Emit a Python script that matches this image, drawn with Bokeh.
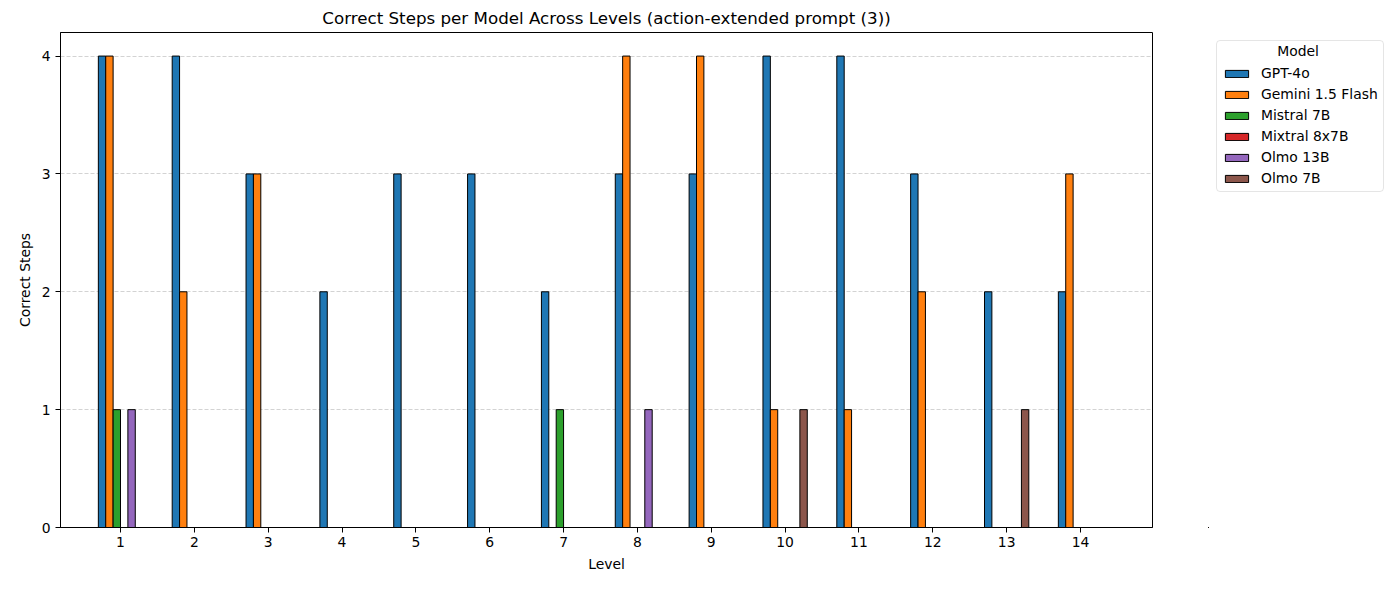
from bokeh.plotting import figure
from bokeh.layouts import row
from bokeh.models import Legend, LegendItem, ColumnDataSource, FixedTicker, Range1d, Label
from bokeh.embed import file_html
from bokeh.resources import INLINE

levels = [1, 2, 3, 4, 5, 6, 7, 8, 9, 10, 11, 12, 13, 14]
models = ["GPT-4o", "Gemini 1.5 Flash", "Mistral 7B", "Mixtral 8x7B", "Olmo 13B", "Olmo 7B"]
gpt4o = [4, 4, 3, 2, 3, 3, 2, 3, 3, 4, 4, 3, 2, 2]
gemini = [4, 2, 3, 0, 0, 0, 0, 4, 4, 1, 1, 2, 0, 3]
mistral = [1, 0, 0, 0, 0, 0, 1, 0, 0, 0, 0, 0, 0, 0]
mixtral = [0, 0, 0, 0, 0, 0, 0, 0, 0, 0, 0, 0, 0, 0]
olmo13 = [1, 0, 0, 0, 0, 0, 0, 1, 0, 0, 0, 0, 0, 0]
olmo7 = [0, 0, 0, 0, 0, 0, 0, 0, 0, 1, 0, 0, 1, 0]
series = [gpt4o, gemini, mistral, mixtral, olmo13, olmo7]
colors = ["#1f77b4", "#ff7f0e", "#2ca02c", "#d62728", "#9467bd", "#8c564b"]

FONT = "DejaVu Sans"
H = 574
TOP, BOTTOM = 24, 45

p = figure(width=1160, height=H, output_backend="svg", toolbar_location=None,
           x_range=Range1d(0.1875, 14.975), y_range=Range1d(0, 4.2),
           min_border_left=60, min_border_right=8, min_border_top=TOP, min_border_bottom=BOTTOM,
           title="Correct Steps per Model Across Levels (action-extended prompt (3))")

bar_w = 0.1
for i, (name, vals, col) in enumerate(zip(models, series, colors)):
    off = (i - 2.5) * bar_w
    src = ColumnDataSource(dict(x=[l + off for l in levels], top=vals))
    p.vbar(x="x", top="top", width=bar_w, source=src, fill_color=col,
           line_color="black", line_width=1)

p.title.text_font = FONT
p.title.text_font_size = "16.7px"
p.title.text_font_style = "normal"
p.title.align = "center"
p.title.text_color = "black"

p.xaxis.axis_label = "Level"
p.yaxis.axis_label = "Correct Steps"
for ax in (p.xaxis, p.yaxis):
    ax.axis_label_text_font = FONT
    ax.axis_label_text_font_size = "13.9px"
    ax.axis_label_text_font_style = "normal"
    ax.axis_label_text_color = "black"
    ax.major_label_text_font = FONT
    ax.major_label_text_font_size = "13.9px"
    ax.major_label_text_color = "black"
    ax.minor_tick_line_color = None
    ax.major_tick_line_color = "black"
    ax.major_tick_out = 5
    ax.major_tick_in = 0
    ax.axis_line_color = "black"
    ax.axis_label_standoff = 6
p.xaxis.ticker = FixedTicker(ticks=levels)
p.yaxis.ticker = FixedTicker(ticks=[0, 1, 2, 3, 4])
p.xaxis.major_label_standoff = 4

p.xgrid.grid_line_color = None
p.ygrid.grid_line_color = "#b0b0b0"
p.ygrid.grid_line_alpha = 0.7
p.ygrid.grid_line_dash = "4 2"
p.ygrid.grid_line_width = 0.8

p.outline_line_color = "black"
p.outline_line_alpha = 1
p.outline_line_width = 1

# Legend panel (a second, axis-less figure); its bars lie far outside its visible ranges
P2W, P2L = 226, 48
fw, fh = P2W - P2L, H - TOP - BOTTOM
X0, Y0 = 10000, 10000
p2 = figure(width=P2W, height=H, output_backend="svg", toolbar_location=None,
            x_range=Range1d(X0, X0 + fw), y_range=Range1d(Y0, Y0 + fh),
            x_axis_location=None, y_axis_location=None,
            min_border_left=P2L, min_border_right=0, min_border_top=TOP, min_border_bottom=BOTTOM)
p2.grid.visible = False
p2.outline_line_color = None
items = []
for name, vals, col in zip(models, series, colors):
    r = p2.vbar(x=levels, top=vals, width=bar_w, fill_color=col, line_color="black", line_width=1)
    items.append(LegendItem(label=name, renderers=[r]))

legend = Legend(items=items, location="top_left", title=" ")
legend.title_text_font = FONT
legend.title_text_font_size = "13.9px"
legend.title_standoff = 3
legend.label_text_font = FONT
legend.label_text_font_size = "13.9px"
legend.label_text_color = "black"
legend.label_standoff = 10
legend.glyph_width = 29
legend.glyph_height = 9
legend.label_height = 14
legend.spacing = 5
legend.padding = 5
legend.margin = 8
legend.border_line_color = "#cccccc"
legend.border_radius = 4
legend.background_fill_alpha = 0
p2.add_layout(legend, "center")

p2.add_layout(Label(x=X0 + 89.5, y=Y0 + fh - 19, text="Model", text_align="center",
                    text_baseline="middle", level="overlay",
                    text_font=FONT, text_font_size="13.9px", text_color="black"))

layout = row(p, p2, spacing=0)
open("out.html", "w").write(file_html(layout, INLINE))
